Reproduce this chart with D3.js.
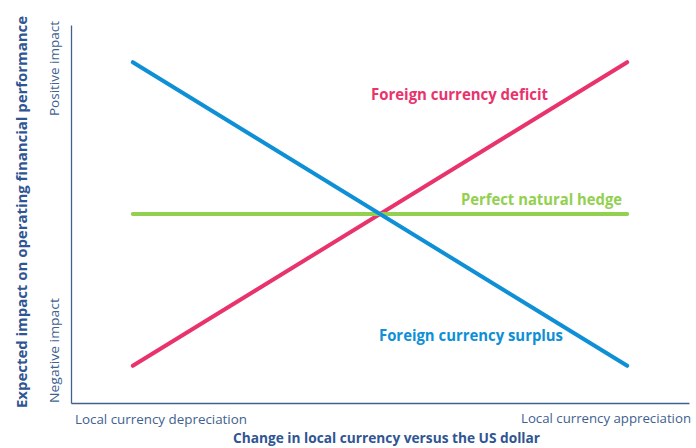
<!DOCTYPE html>
<html>
<head>
<meta charset="utf-8">
<script src="https://cdn.jsdelivr.net/npm/d3@7"></script>
<style>
  html, body { margin: 0; padding: 0; background: #ffffff; }
  svg { display: block; font-family: "Open Sans", "Lato", sans-serif; }
</style>
</head>
<body>
<svg id="chart" width="696" height="448"></svg>
<script>
// ---- data ----
const xCategories = ["Local currency depreciation", "Local currency appreciation"];
const yCategories = ["Negative impact", "Positive impact"];
const xPositions = [0, 1];            // depreciation -> appreciation
const deficitValues = [-1, 1];        // Foreign currency deficit
const surplusValues = [1, -1];        // Foreign currency surplus
const hedgeValues = [0, 0];           // Perfect natural hedge
const seriesNames = ["Foreign currency deficit", "Perfect natural hedge", "Foreign currency surplus"];
const xTitle = "Change in local currency versus the US dollar";
const yTitle = "Expected impact on operating financial performance";

const series = [
  { name: seriesNames[0], values: deficitValues, color: "#e8336c",
    label: { x: 371, y: 100, w: 177 } },
  { name: seriesNames[1], values: hedgeValues, color: "#92d050",
    label: { x: 461, y: 205, w: 161 } },
  { name: seriesNames[2], values: surplusValues, color: "#0e8fd6",
    label: { x: 379, y: 341, w: 184 } }
];

const svg = d3.select("#chart");
const x = d3.scaleLinear().domain([-0.125, 1.125]).range([71, 689]);
const y = d3.scaleLinear().domain([-1.245, 1.245]).range([403, 25]);

const axisColor = "#41618f";

// axes (no ticks)
svg.append("g")
  .attr("transform", `translate(0,${y(-1.245)})`)
  .call(d3.axisBottom(x).tickValues([]).tickSizeOuter(0))
  .call(g => g.select(".domain").attr("stroke", axisColor).attr("stroke-width", 1.3));
svg.append("g")
  .attr("transform", `translate(${x(-0.125)},0)`)
  .call(d3.axisLeft(y).tickValues([]).tickSizeOuter(0))
  .call(g => g.select(".domain").attr("stroke", axisColor).attr("stroke-width", 1.3));

// lines
const line = d3.line().x((d, i) => x(xPositions[i])).y(d => y(d));
series.forEach(s => {
  svg.append("path")
    .datum(s.values)
    .attr("d", line)
    .attr("fill", "none")
    .attr("stroke", s.color)
    .attr("stroke-width", 4)
    .attr("stroke-linecap", "round");
});

// series labels
series.forEach(s => {
  svg.append("text")
    .attr("x", s.label.x).attr("y", s.label.y)
    .attr("fill", s.color)
    .attr("font-size", 16).attr("font-weight", "bold")
    .attr("textLength", s.label.w).attr("lengthAdjust", "spacingAndGlyphs")
    .text(s.name);
});

// x category labels
svg.append("text").attr("x", 75).attr("y", 424)
  .attr("fill", axisColor).attr("font-size", 13.5)
  .attr("textLength", 172).attr("lengthAdjust", "spacingAndGlyphs")
  .text(xCategories[0]);
svg.append("text").attr("x", 521).attr("y", 423)
  .attr("fill", axisColor).attr("font-size", 13.5)
  .attr("textLength", 170).attr("lengthAdjust", "spacingAndGlyphs")
  .text(xCategories[1]);

// x title
svg.append("text").attr("x", 233).attr("y", 443)
  .attr("fill", "#2f5593").attr("font-size", 15).attr("font-weight", "bold")
  .attr("textLength", 307).attr("lengthAdjust", "spacingAndGlyphs")
  .text(xTitle);

// y title (rotated)
svg.append("text")
  .attr("transform", "translate(27,408) rotate(-90)")
  .attr("fill", "#2f5593").attr("font-size", 15).attr("font-weight", "bold")
  .attr("textLength", 392).attr("lengthAdjust", "spacingAndGlyphs")
  .text(yTitle);

// y category labels
svg.append("text")
  .attr("transform", "translate(59,403) rotate(-90)")
  .attr("fill", axisColor).attr("font-size", 13.5)
  .attr("textLength", 105).attr("lengthAdjust", "spacingAndGlyphs")
  .text(yCategories[0]);
svg.append("text")
  .attr("transform", "translate(59,116) rotate(-90)")
  .attr("fill", axisColor).attr("font-size", 13.5)
  .attr("textLength", 95).attr("lengthAdjust", "spacingAndGlyphs")
  .text(yCategories[1]);
</script>
</body>
</html>
